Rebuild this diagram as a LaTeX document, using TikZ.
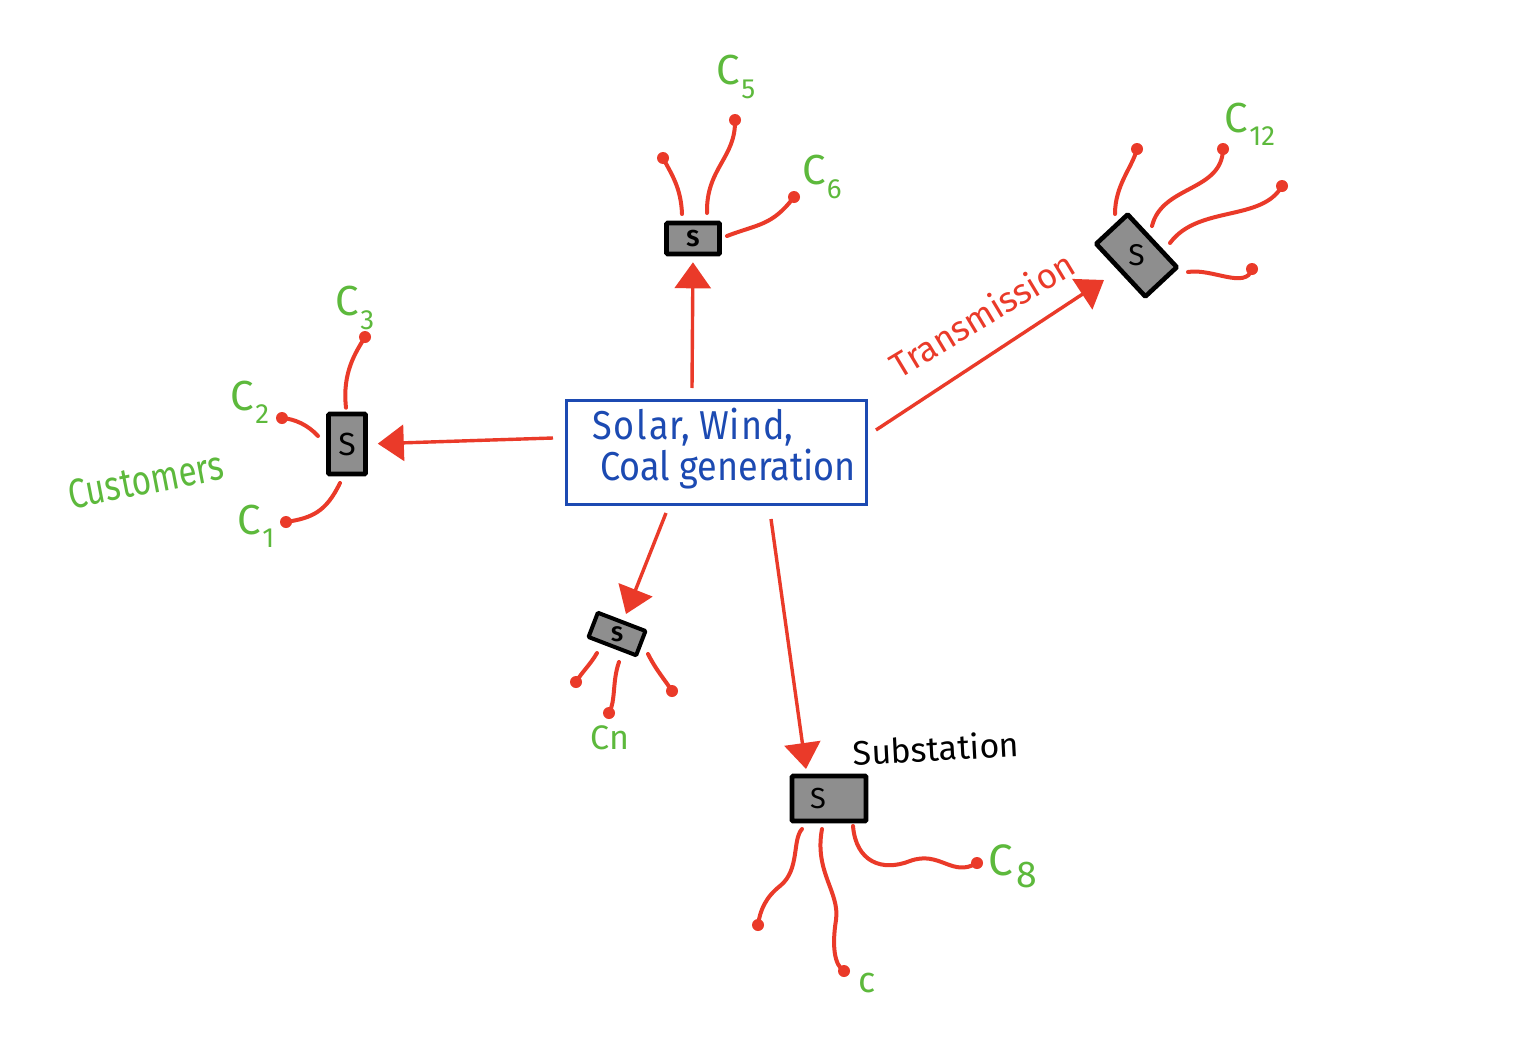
\documentclass[tikz,border=0pt]{standalone}
\usepackage{fontspec}
\setmainfont{Fira Sans}
\usetikzlibrary{arrows.meta}
\definecolor{wirec}{RGB}{234,58,41}
\definecolor{labgreen}{RGB}{93,185,60}
\definecolor{genblue}{RGB}{28,74,178}
\definecolor{subgray}{RGB}{142,142,142}
\newcommand\clab[1]{C\kern1pt\raisebox{-0.32em}{\scalebox{0.66}{#1}}}
\begin{document}
\begin{tikzpicture}[x=1pt,y=-1pt,
  wire/.style={draw=wirec, line width=4pt, line cap=round},
  cdot/.style={circle, fill=wirec, inner sep=0pt, minimum size=12pt},
  sub/.style={draw=black, line width=4.6pt, fill=subgray, rounded corners=1pt, inner sep=0pt},
  arr/.style={draw=wirec, line width=3.4pt, -{Triangle[length=26pt,width=36pt]}},
  clabel/.style={text=labgreen, font=\fontsize{42}{42}\selectfont, inner sep=0pt}
]
\useasboundingbox (0,0) rectangle (1527,1044);
\fill[white] (0,0) rectangle (1527,1044);

% generation box
\node[draw=genblue, line width=3pt, minimum width=300pt, minimum height=104pt, inner sep=0pt] (gen) at (716,452.5) {};
\node[text=genblue, font=\fontsize{36}{36}\selectfont, anchor=west, inner sep=0pt, yscale=1.12] (gl1) at (592,427) {S\kern2pt o\kern2pt l\kern2pt a\kern1pt r, W\kern1pt i\kern1pt n\kern1pt d,};
\node[text=genblue, font=\fontsize{36}{36}\selectfont, anchor=west, inner sep=0pt, yscale=1.12] (gl2) at (600,469) {Coal generation};

% substations
\node[sub, minimum width=37pt, minimum height=60pt, font=\fontsize{32}{32}\selectfont] (sl) at (347,444) {S};
\node[sub, minimum width=53pt, minimum height=31pt, font=\bfseries\fontsize{23}{23}\selectfont] (st) at (693,238.5) {S};
\node[sub, minimum width=72pt, minimum height=43pt, rotate=-47, font=\fontsize{30}{30}\selectfont] (sr) at (1136.5,255.5) {\rotatebox{47}{S}};
\node[sub, line width=4pt, minimum width=51pt, minimum height=26pt, rotate=-21, font=\bfseries\fontsize{21}{21}\selectfont] (sn) at (617,634) {\rotatebox{21}{S}};
\node[sub, minimum width=74pt, minimum height=45pt, font=\fontsize{29}{29}\selectfont] (sb) at (829,798.5) {\kern-22pt S};

% arrows from generation
\coordinate (a1) at (692,388);
\coordinate (a2) at (553,438);
\coordinate (a3) at (876,430);
\coordinate (a4) at (666,513);
\coordinate (a5) at (771,519);
\coordinate (t3) at (1104,280);
\coordinate (t4) at (626,614);
\coordinate (t5) at (806,769);
\draw[arr, shorten >=6pt] (a1) -- (st.south);
\draw[arr, shorten >=10pt] (a2) -- (sl.east);
\draw[arr] (a3) -- (t3);
\draw[arr] (a4) -- (t4);
\draw[arr] (a5) -- (t5);

% left substation customers
\node[cdot] (c3) at (365,337) {};
\node[cdot] (c2) at (282,418) {};
\node[cdot] (c1) at (286,522) {};
\draw[wire] (sl.north) ++(-1,-4) .. controls (342,372) and (356,352) .. (c3.center);
\draw[wire] (318,436) .. controls (308,425) and (295,419) .. (c2.center);
\draw[wire] (340,483) .. controls (326,512) and (312,518) .. (c1.center);
\node[clabel] (lc3) at (355,308) {\clab{3}};
\node[clabel] (lc2) at (250,402) {\clab{2}};
\node[clabel] (lc1) at (256,526) {\clab{1}};
\node[text=labgreen, font=\fontsize{36}{36}\selectfont, rotate=11, inner sep=0pt, xscale=0.92, yscale=1.15] (cust) at (146,480) {Customers};

% top substation customers
\node[cdot] (t1) at (663,158) {};
\node[cdot] (t2) at (735,120) {};
\node[cdot] (t6) at (794,197) {};
\draw[wire] (682,214) .. controls (681,188) and (672,175) .. (t1.center);
\draw[wire] (707,213) .. controls (706,168) and (736,158) .. (t2.center);
\draw[wire] (727,236) .. controls (758,224) and (772,226) .. (t6.center);
\node[clabel] (lc5) at (736,77) {\clab{5}};
\node[clabel] (lc6) at (822,177) {\clab{6}};

% right substation customers
\node[cdot] (r1) at (1137,149) {};
\node[cdot] (r2) at (1223,149) {};
\node[cdot] (r3) at (1282,186) {};
\node[cdot] (r4) at (1252,269) {};
\draw[wire] (1115,214) .. controls (1115,185) and (1132,168) .. (r1.center);
\draw[wire] (1152,226) .. controls (1162,185) and (1222,192) .. (r2.center);
\draw[wire] (1170,243) .. controls (1198,205) and (1262,222) .. (r3.center);
\draw[wire] (1188,272) .. controls (1212,268) and (1246,290) .. (r4.center);
\node[clabel] (lc12) at (1250,124) {\clab{12}};
\node[text=wirec, font=\fontsize{35}{35}\selectfont, rotate=31, inner sep=0pt] (trans) at (982,314) {Transmission};

% small substation customers
\node[cdot] (n1) at (576,682) {};
\node[cdot] (n2) at (609,713) {};
\node[cdot] (n3) at (672,691) {};
\draw[wire] (597,653) .. controls (590,665) and (582,672) .. (n1.center);
\draw[wire] (619,662) .. controls (612,682) and (616,700) .. (n2.center);
\draw[wire] (648,654) .. controls (656,670) and (665,680) .. (n3.center);
\node[clabel, font=\fontsize{34}{34}\selectfont] (lcn) at (610,738) {Cn};

% bottom substation customers
\node[cdot] (b1) at (758,925) {};
\node[cdot] (b2) at (844,971) {};
\node[cdot] (b3) at (977,863) {};
\draw[wire] (802,829) .. controls (792,840) and (800,870) .. (780,886) .. controls (766,897) and (760,910) .. (b1.center);
\draw[wire] (822,829) .. controls (814,872) and (840,892) .. (836,920) .. controls (832,945) and (834,965) .. (b2.center);
\draw[wire] (853,826) .. controls (856,862) and (882,872) .. (910,861) .. controls (940,850) and (952,878) .. (b3.center);
\node[clabel, font=\fontsize{44}{44}\selectfont] (lc8) at (1013,866) {C\kern3pt\raisebox{-0.28em}{\scalebox{0.85}{8}}};
\node[clabel, font=\fontsize{36}{36}\selectfont] (lcc) at (867,983) {c};
\node[text=black, font=\fontsize{34}{34}\selectfont, rotate=3, inner sep=0pt] (subst) at (936,748) {Substation};
\end{tikzpicture}
\end{document}
